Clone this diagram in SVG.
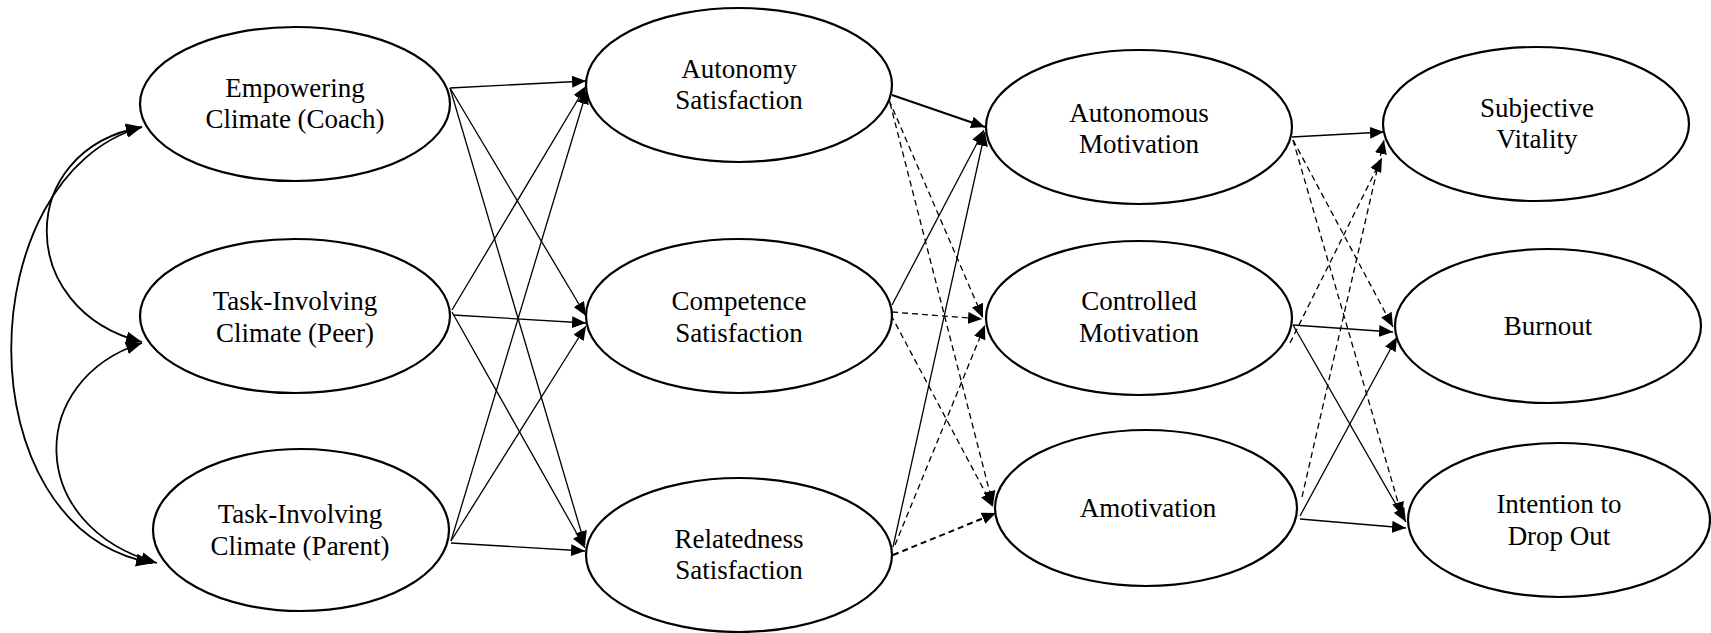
<svg xmlns="http://www.w3.org/2000/svg" width="1711" height="633" viewBox="0 0 1711 633">
  <style>
    .node ellipse { fill: #fff; stroke: #000; stroke-width: 2.2; }
    .node text { font-family: "Liberation Serif", "Times New Roman", serif; font-size: 27px; fill: #000; text-anchor: middle; }
    .edge { fill: none; stroke: #000; stroke-width: 1.3; marker-end: url(#arrow); }
    .dash { stroke-dasharray: 6 4; }
    .bold { stroke-width: 2; }
    .cov { fill: none; stroke: #000; stroke-width: 1.8; marker-start: url(#arrowCov); marker-end: url(#arrowCov); }
  </style>
  <defs>
    <marker id="arrow" markerUnits="userSpaceOnUse" markerWidth="15" markerHeight="12" refX="14" refY="6" orient="auto">
      <path d="M0,0 L14,6 L0,12 z" fill="#000"/>
    </marker>
    <marker id="arrowCov" markerUnits="userSpaceOnUse" markerWidth="17" markerHeight="13" refX="16" refY="6.5" orient="auto-start-reverse">
      <path d="M0,0 L16,6.5 L0,13 z" fill="#000"/>
    </marker>
  </defs>

  <rect width="1711" height="633" fill="#fff"/>

  <!-- connectors -->
  <g id="connectors">
    <!-- correlations among climate variables -->
    <path class="cov" d="M142,127 C15,150 15,310 142,342"/>
    <path class="cov" d="M142,343 C26,380 25,526 157,563"/>
    <path class="cov" d="M142,127 C-30,175 -38,528 152,563"/>

    <!-- climates to need satisfaction -->
    <line class="edge" x1="450" y1="88" x2="586" y2="81"/>
    <line class="edge" x1="450" y1="88" x2="586" y2="316"/>
    <line class="edge" x1="450" y1="88" x2="585" y2="545"/>
    <line class="edge" x1="452" y1="310" x2="586" y2="86"/>
    <line class="edge" x1="453" y1="315" x2="586" y2="323"/>
    <line class="edge" x1="452" y1="312" x2="585" y2="548"/>
    <line class="edge" x1="451" y1="541" x2="587" y2="90"/>
    <line class="edge" x1="451" y1="541" x2="586" y2="326"/>
    <line class="edge" x1="451" y1="543" x2="585" y2="551"/>

    <!-- need satisfaction to motivation -->
    <line class="edge bold" x1="892" y1="95" x2="985" y2="127"/>
    <line class="edge dash" x1="889" y1="100" x2="983" y2="318"/>
    <line class="edge dash" x1="890" y1="103" x2="993" y2="505"/>
    <line class="edge" x1="892" y1="305" x2="984" y2="130"/>
    <line class="edge dash" x1="892" y1="312" x2="982" y2="319"/>
    <line class="edge dash" x1="891" y1="315" x2="993" y2="507"/>
    <line class="edge" x1="893" y1="547" x2="985" y2="132"/>
    <line class="edge dash" x1="895" y1="545" x2="985" y2="325"/>
    <line class="edge dash bold" x1="893" y1="555" x2="996" y2="513"/>

    <!-- motivation to outcomes -->
    <line class="edge" x1="1292" y1="137" x2="1384" y2="132"/>
    <line class="edge dash" x1="1293" y1="140" x2="1393" y2="327"/>
    <line class="edge dash" x1="1293" y1="140" x2="1402" y2="516"/>
    <line class="edge dash" x1="1290" y1="343" x2="1382" y2="158"/>
    <line class="edge" x1="1293" y1="325" x2="1393" y2="332"/>
    <line class="edge" x1="1293" y1="325" x2="1406" y2="522"/>
    <line class="edge dash" x1="1302" y1="497" x2="1384" y2="140"/>
    <line class="edge" x1="1300" y1="516" x2="1397" y2="337"/>
    <line class="edge" x1="1300" y1="519" x2="1406" y2="528"/>
  </g>

  <!-- climate variables -->
  <g id="empowering-climate-coach" class="node">
    <ellipse cx="295" cy="104" rx="155" ry="77"/>
    <text x="295" y="97">Empowering</text>
    <text x="295" y="128">Climate (Coach)</text>
  </g>
  <g id="task-climate-peer" class="node">
    <ellipse cx="295" cy="316" rx="155" ry="77"/>
    <text x="295" y="310">Task-Involving</text>
    <text x="295" y="342">Climate (Peer)</text>
  </g>
  <g id="task-climate-parent" class="node">
    <ellipse cx="301" cy="530" rx="148" ry="81"/>
    <text x="300" y="523">Task-Involving</text>
    <text x="300" y="555">Climate (Parent)</text>
  </g>

  <!-- need satisfaction -->
  <g id="autonomy-satisfaction" class="node">
    <ellipse cx="739" cy="85" rx="153" ry="77"/>
    <text x="739" y="78">Autonomy</text>
    <text x="739" y="109">Satisfaction</text>
  </g>
  <g id="competence-satisfaction" class="node">
    <ellipse cx="739" cy="316" rx="153" ry="77"/>
    <text x="739" y="310">Competence</text>
    <text x="739" y="342">Satisfaction</text>
  </g>
  <g id="relatedness-satisfaction" class="node">
    <ellipse cx="739" cy="555" rx="153" ry="77"/>
    <text x="739" y="548">Relatedness</text>
    <text x="739" y="579">Satisfaction</text>
  </g>

  <!-- motivation -->
  <g id="autonomous-motivation" class="node">
    <ellipse cx="1139" cy="127" rx="153" ry="77"/>
    <text x="1139" y="122">Autonomous</text>
    <text x="1139" y="153">Motivation</text>
  </g>
  <g id="controlled-motivation" class="node">
    <ellipse cx="1139" cy="318" rx="153" ry="77"/>
    <text x="1139" y="310">Controlled</text>
    <text x="1139" y="342">Motivation</text>
  </g>
  <g id="amotivation" class="node">
    <ellipse cx="1146" cy="508" rx="151" ry="78"/>
    <text x="1148" y="517">Amotivation</text>
  </g>

  <!-- outcomes -->
  <g id="subjective-vitality" class="node">
    <ellipse cx="1536" cy="124" rx="153" ry="77"/>
    <text x="1537" y="117">Subjective</text>
    <text x="1537" y="148">Vitality</text>
  </g>
  <g id="burnout" class="node">
    <ellipse cx="1548" cy="326" rx="153" ry="77"/>
    <text x="1548" y="335">Burnout</text>
  </g>
  <g id="intention-drop-out" class="node">
    <ellipse cx="1559" cy="520" rx="151" ry="77"/>
    <text x="1559" y="513">Intention to</text>
    <text x="1559" y="545">Drop Out</text>
  </g>
</svg>
